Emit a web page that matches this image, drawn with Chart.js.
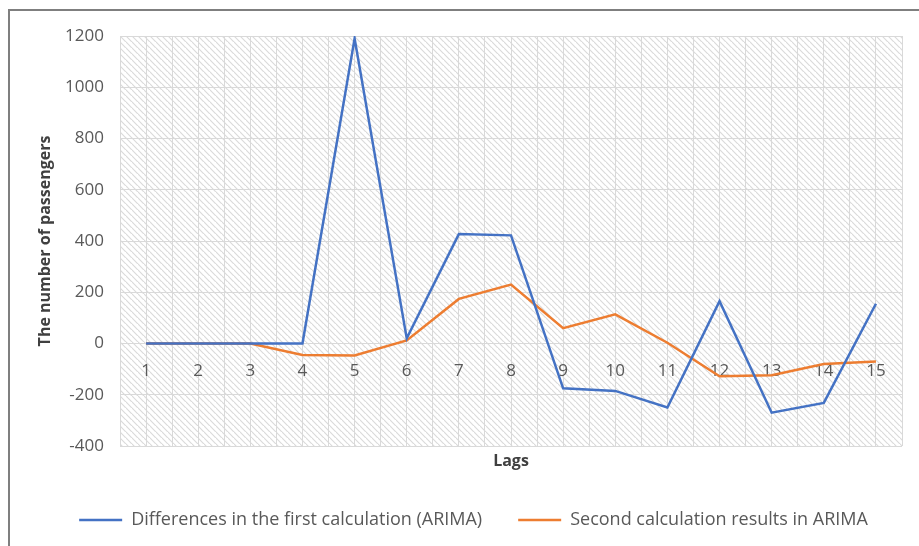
<!DOCTYPE html>
<html>
<head>
<meta charset="utf-8">
<script src="https://cdn.jsdelivr.net/npm/chart.js@4/dist/chart.umd.min.js"></script>
<style>
  html, body { margin: 0; padding: 0; background: #fff; overflow: hidden; }
  #wrap { position: relative; width: 919px; height: 546px; }
  #frame {
    position: absolute; left: 8px; top: 9px; width: 1000px; height: 1000px;
    border-left: 2px solid #7f7f7f; border-top: 2px solid #7f7f7f;
  }
  #chart { position: absolute; left: 0; top: 0; }
</style>
</head>
<body>
<div id="wrap">
  <div id="frame"></div>
  <canvas id="chart" width="919" height="546"></canvas>
</div>
<script>
// Lags on the x axis
const lags = [1, 2, 3, 4, 5, 6, 7, 8, 9, 10, 11, 12, 13, 14, 15];

// Series values
const firstCalc = [0, 0, 0, 0, 1190, 20, 427, 422, -175, -185, -250, 165, -270, -232, 155];
const secondCalc = [0, 0, 0, -45, -47, 12, 174, 230, 60, 114, 3, -128, -124, -80, -70];

// Y tick range
const yMin = -400;
const yMax = 1200;
const yStep = 200;

const textColor = '#595959';
const gridColor = '#d9d9d9';
const fontFamily = "'Open Sans', sans-serif";

// Diagonal hatch for the plot area
function makeHatch() {
  const s = 6;
  const c = document.createElement('canvas');
  c.width = s;
  c.height = s;
  const g = c.getContext('2d');
  g.strokeStyle = '#dadada';
  g.lineWidth = 1.2;
  g.beginPath();
  g.moveTo(-1, -1);
  g.lineTo(s + 1, s + 1);
  g.moveTo(-s - 1, -1);
  g.lineTo(1, s + 1);
  g.moveTo(s - 1, -s - 1);
  g.lineTo(2 * s + 1, s + 1);
  g.stroke();
  return g.createPattern(c, 'repeat');
}

const hatchPlugin = {
  id: 'hatch',
  beforeDraw(chart) {
    const { ctx, chartArea } = chart;
    ctx.save();
    ctx.fillStyle = makeHatch();
    ctx.fillRect(chartArea.left, chartArea.top,
      chartArea.right - chartArea.left, chartArea.bottom - chartArea.top);
    ctx.restore();
  },
};

function toPoints(values) {
  return values.map((v, i) => ({ x: lags[i], y: v }));
}

const ctx = document.getElementById('chart').getContext('2d');

new Chart(ctx, {
  type: 'line',
  data: {
    datasets: [
      {
        label: 'Differences in the first calculation (ARIMA)',
        data: toPoints(firstCalc),
        borderColor: '#4472c4',
        backgroundColor: '#4472c4',
        borderWidth: 2.5,
        pointRadius: 0,
        tension: 0,
      },
      {
        label: 'Second calculation results in ARIMA',
        data: toPoints(secondCalc),
        borderColor: '#ed7d31',
        backgroundColor: '#ed7d31',
        borderWidth: 2.5,
        pointRadius: 0,
        tension: 0,
      },
    ],
  },
  options: {
    responsive: false,
    animation: false,
    layout: { padding: { left: 40, right: 12, top: 36, bottom: 7 } },
    plugins: {
      tooltip: { enabled: false },
      legend: {
        position: 'bottom',
        labels: {
          usePointStyle: true,
          pointStyle: 'line',
          pointStyleWidth: 43,
          padding: 36,
          color: textColor,
          font: { family: fontFamily, size: 18 },
        },
      },
    },
    scales: {
      x: {
        type: 'linear',
        position: { y: 0 },
        min: 0.5,
        max: 15.5,
        grid: { color: gridColor, drawTicks: false },
        border: { display: false },
        ticks: {
          stepSize: 0.5,
          autoSkip: false,
          maxRotation: 0,
          padding: 17,
          color: textColor,
          font: { family: fontFamily, size: 17 },
          callback: (v) => (Number.isInteger(v) ? String(v) : ''),
        },
      },
      xTitle: {
        type: 'linear',
        position: 'bottom',
        min: 0,
        max: 1,
        grid: { display: false, drawTicks: false },
        border: { display: false },
        ticks: { display: false },
        title: {
          display: true,
          text: 'Lags',
          color: '#404040',
          padding: { top: 0, bottom: 4 },
          font: { family: fontFamily, size: 16, weight: 'bold' },
        },
        afterFit(scale) {
          scale.height = 29;
        },
      },
      y: {
        min: yMin,
        max: yMax,
        grid: { color: gridColor, drawTicks: false },
        border: { display: false },
        ticks: {
          stepSize: yStep,
          padding: 16,
          color: textColor,
          font: { family: fontFamily, size: 17 },
          callback: (v) => String(v),
        },
        title: {
          display: true,
          text: 'The number of passengers',
          color: '#404040',
          padding: { top: -4, bottom: 0 },
          font: { family: fontFamily, size: 16, weight: 'bold' },
        },
        afterFit(scale) {
          scale.width = 80;
        },
      },
    },
  },
  plugins: [hatchPlugin],
});
</script>
</body>
</html>
